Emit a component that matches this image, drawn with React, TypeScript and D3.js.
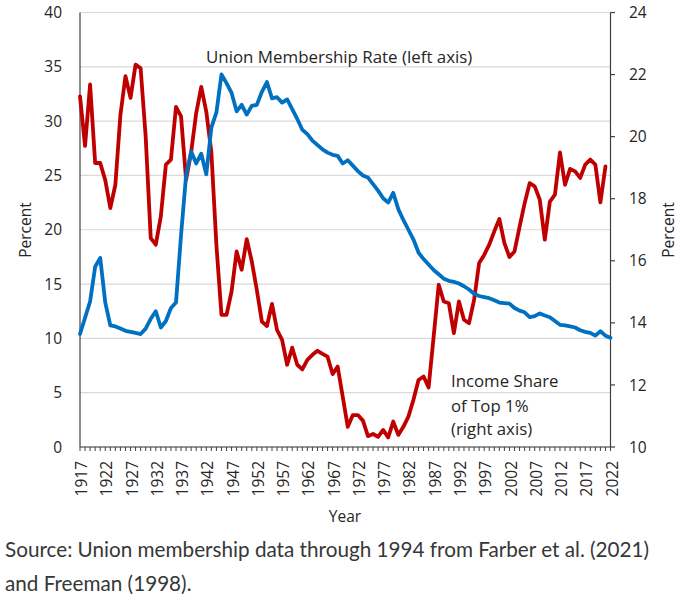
import React from "react";
import * as d3 from "d3";

const years: number[] = [
  1917, 1918, 1919, 1920, 1921, 1922, 1923, 1924, 1925, 1926, 1927, 1928, 1929, 1930, 1931, 1932, 1933, 1934, 1935, 1936,
  1937, 1938, 1939, 1940, 1941, 1942, 1943, 1944, 1945, 1946, 1947, 1948, 1949, 1950, 1951, 1952, 1953, 1954, 1955, 1956,
  1957, 1958, 1959, 1960, 1961, 1962, 1963, 1964, 1965, 1966, 1967, 1968, 1969, 1970, 1971, 1972, 1973, 1974, 1975, 1976,
  1977, 1978, 1979, 1980, 1981, 1982, 1983, 1984, 1985, 1986, 1987, 1988, 1989, 1990, 1991, 1992, 1993, 1994, 1995, 1996,
  1997, 1998, 1999, 2000, 2001, 2002, 2003, 2004, 2005, 2006, 2007, 2008, 2009, 2010, 2011, 2012, 2013, 2014, 2015, 2016,
  2017, 2018, 2019, 2020, 2021, 2022,
];

// Union membership rate (left axis), 1917-2022
const unionRate: number[] = [
  10.4, 11.9, 13.4, 16.6, 17.4, 13.3, 11.2, 11.1, 10.9, 10.7, 10.6, 10.5, 10.4, 10.9, 11.8, 12.5, 11.0, 11.6, 12.8, 13.3,
  19.5, 25.0, 27.2, 26.1, 27.0, 25.1, 29.4, 30.8, 34.3, 33.5, 32.6, 30.9, 31.5, 30.6, 31.4, 31.5, 32.7, 33.6, 32.1, 32.2,
  31.7, 32.0, 31.1, 30.2, 29.2, 28.8, 28.2, 27.8, 27.4, 27.1, 26.9, 26.8, 26.1, 26.4, 25.9, 25.4, 25.0, 24.8, 24.2, 23.6,
  22.9, 22.5, 23.4, 21.9, 20.9, 20.0, 19.1, 17.9, 17.3, 16.8, 16.3, 15.9, 15.5, 15.3, 15.2, 15.05, 14.8, 14.5, 14.1, 13.9,
  13.8, 13.7, 13.5, 13.3, 13.25, 13.2, 12.8, 12.55, 12.4, 11.95, 12.05, 12.3, 12.1, 11.95, 11.6, 11.25, 11.2, 11.1, 11.0, 10.75,
  10.6, 10.5, 10.25, 10.65, 10.25, 10.05,
];

// Income share of top 1% (right axis), 1917-2021
const topShare: number[] = [
  21.3, 19.7, 21.68, 19.15, 19.15, 18.6, 17.7, 18.45, 20.7, 21.95, 21.25, 22.32, 22.2, 20.0, 16.73, 16.52, 17.43, 19.1, 19.26, 20.96,
  20.65, 18.61, 19.5, 20.76, 21.6, 20.8, 19.5, 16.5, 14.26, 14.26, 15.01, 16.3, 15.71, 16.7, 15.98, 15.06, 14.04, 13.9, 14.61, 13.77,
  13.45, 12.65, 13.2, 12.65, 12.5, 12.81, 12.97, 13.1, 13.0, 12.91, 12.35, 12.59, 11.62, 10.65, 11.03, 11.03, 10.85, 10.35, 10.42, 10.33,
  10.55, 10.31, 10.82, 10.39, 10.65, 10.98, 11.52, 12.16, 12.27, 11.92, 13.56, 15.23, 14.69, 14.63, 13.67, 14.69, 14.1, 13.99, 14.74, 15.93,
  16.19, 16.52, 16.95, 17.35, 16.57, 16.12, 16.3, 17.09, 17.85, 18.5, 18.4, 17.97, 16.68, 17.91, 18.13, 19.49, 18.45, 18.96, 18.88, 18.67,
  19.1, 19.26, 19.1, 17.88, 19.04,
];

const leftTicks: number[] = [0, 5, 10, 15, 20, 25, 30, 35, 40];
const rightTicks: number[] = [10, 12, 14, 16, 18, 20, 22, 24];
const yearLabels: number[] = [1917, 1922, 1927, 1932, 1937, 1942, 1947, 1952, 1957, 1962, 1967, 1972, 1977, 1982, 1987, 1992, 1997, 2002, 2007, 2012, 2017, 2022];

const W = 681;
const H = 605;
const M = { left: 80, right: 610.5, top: 12.5, bottom: 447 };
const BLUE = "#0070C0";
const RED = "#C00000";
const FONT = "'Open Sans', sans-serif";
const TXT = "#262626";

export default function App() {
  const x = d3.scalePoint<number>().domain(years).range([M.left, M.right]).padding(0);
  const yL = d3.scaleLinear().domain([0, 40]).range([M.bottom, M.top]);
  const yR = d3.scaleLinear().domain([10, 24]).range([M.bottom, M.top]);

  const unionLine = d3
    .line<number>()
    .x((_, i) => x(years[i]) as number)
    .y((d) => yL(d));
  const shareLine = d3
    .line<number>()
    .x((_, i) => x(years[i]) as number)
    .y((d) => yR(d));

  return (
    <svg width={W} height={H} style={{ position: "absolute", left: 0, top: 0, background: "#fff" }}>
      <rect x={0} y={0} width={W} height={H} fill="#fff" />
      {leftTicks.map((t) => (
        <line key={"g" + t} x1={M.left} x2={M.right} y1={yL(t)} y2={yL(t)} stroke="#d9d9d9" strokeWidth={1.2} />
      ))}
      {leftTicks.map((t) => (
        <text key={"l" + t} x={62} y={yL(t)} dy="0.36em" textAnchor="end" fontFamily={FONT} fontSize={15.5} fill={TXT}>
          {t}
        </text>
      ))}
      <line x1={M.right} x2={M.right} y1={M.top} y2={M.bottom} stroke="#404040" strokeWidth={1.2} />
      {rightTicks.map((t) => (
        <g key={"r" + t}>
          <line x1={M.right} x2={M.right + 4.5} y1={yR(t)} y2={yR(t)} stroke="#404040" strokeWidth={1.2} />
          <text x={629} y={yR(t)} dy="0.36em" textAnchor="start" fontFamily={FONT} fontSize={15.5} fill={TXT}>
            {t}
          </text>
        </g>
      ))}
      <line x1={M.left} x2={M.left} y1={M.top} y2={M.bottom} stroke="#404040" strokeWidth={1.2} />
      <line x1={M.left} x2={M.right} y1={M.bottom} y2={M.bottom} stroke="#404040" strokeWidth={1.2} />
      {years.map((yr) => (
        <line key={"t" + yr} x1={x(yr)} x2={x(yr)} y1={M.bottom} y2={M.bottom + 4} stroke="#404040" strokeWidth={1} />
      ))}
      {yearLabels.map((yr) => (
        <text
          key={"x" + yr}
          transform={`translate(${(x(yr) as number) + 1.5},461) rotate(-90)`}
          dy="0.36em"
          textAnchor="end"
          fontFamily={FONT}
          fontSize={15.5}
          fill={TXT}
        >
          {yr}
        </text>
      ))}
      <path d={shareLine(topShare) || ""} fill="none" stroke={RED} strokeWidth={3.8} strokeLinejoin="round" strokeLinecap="round" />
      <path d={unionLine(unionRate) || ""} fill="none" stroke={BLUE} strokeWidth={3.8} strokeLinejoin="round" strokeLinecap="round" />
      <text x={206} y={63} fontFamily={FONT} fontSize={16.9} fill={TXT}>
        Union Membership Rate (left axis)
      </text>
      <text fontFamily={FONT} fontSize={16.8} fill={TXT}>
        <tspan x={451} y={387}>Income Share</tspan>
        <tspan x={451} y={411.5}>of Top 1%</tspan>
        <tspan x={451} y={435}>(right axis)</tspan>
      </text>
      <text transform="translate(25,230) rotate(-90)" dy="0.36em" textAnchor="middle" fontFamily={FONT} fontSize={15.5} fill={TXT}>
        Percent
      </text>
      <text transform="translate(668,230) rotate(-90)" dy="0.36em" textAnchor="middle" fontFamily={FONT} fontSize={15.5} fill={TXT}>
        Percent
      </text>
      <text x={345} y={522} textAnchor="middle" fontFamily={FONT} fontSize={15.5} fill={TXT}>
        Year
      </text>
      <text fontFamily="Lato, sans-serif" fontSize={20.7} fill="#363737">
        <tspan x={5} y={557}>Source: Union membership data through 1994 from Farber et al. (2021)</tspan>
        <tspan x={5} y={591}>and Freeman (1998).</tspan>
      </text>
    </svg>
  );
}
